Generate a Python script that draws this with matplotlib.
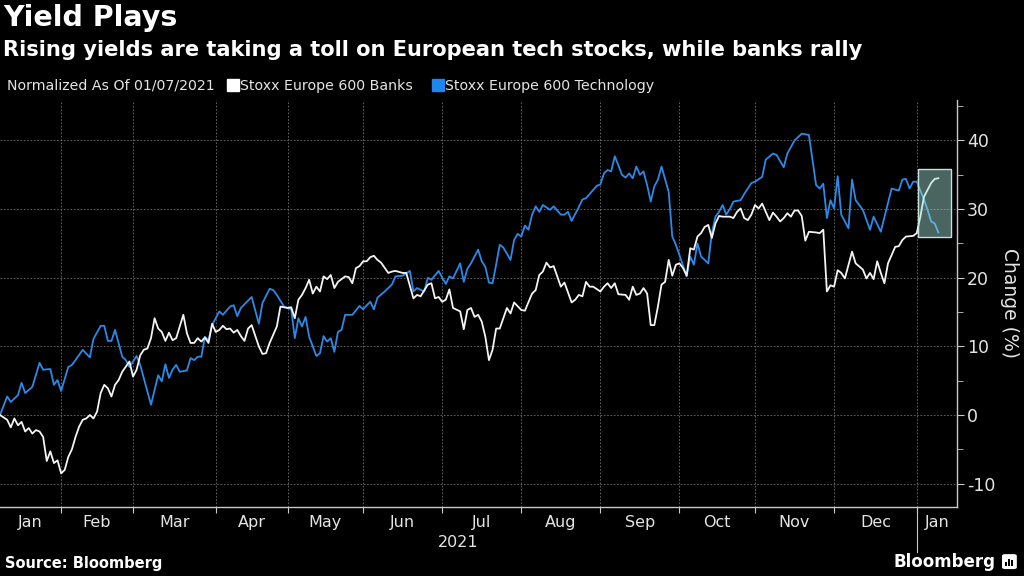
import numpy as np
import matplotlib
matplotlib.use("Agg")
import matplotlib.pyplot as plt
from matplotlib.lines import Line2D
from matplotlib.patches import Rectangle, FancyBboxPatch
from matplotlib.ticker import MultipleLocator

plt.rcParams["axes.unicode_minus"] = False

# trading sessions counted from the normalisation date 01/07/2021
START = "2021-01-07"
HOLIDAYS = ["2021-04-02", "2021-04-05"]
month_starts = ["2021-02-01", "2021-03-01", "2021-04-01", "2021-05-01", "2021-06-01",
                "2021-07-01", "2021-08-01", "2021-09-01", "2021-10-01", "2021-11-01",
                "2021-12-01", "2022-01-01"]
month_names = ["Jan", "Feb", "Mar", "Apr", "May", "Jun", "Jul", "Aug", "Sep", "Oct",
               "Nov", "Dec", "Jan"]

# Stoxx Europe 600 Banks, % change (session number, value)
banks_session = [0, 2, 3, 4, 5, 6, 7, 8, 9, 10, 11, 12, 13, 14, 15, 16, 17, 18, 19, 20,
                 21, 22, 23, 24, 25, 26, 27, 28, 29, 30, 31, 32, 33, 34, 36, 37, 38, 39, 40, 41,
                 42, 43, 44, 45, 46, 47, 48, 49, 51, 52, 53, 54, 55, 56, 57, 58, 59, 60, 61, 62,
                 63, 64, 65, 66, 67, 68, 69, 70, 72, 73, 74, 75, 77, 78, 80, 81, 82, 83, 84, 85,
                 86, 87, 88, 89, 90, 91, 92, 93, 94, 96, 97, 98, 99, 100, 101, 102, 103, 104, 105, 106,
                 108, 109, 110, 112, 113, 115, 116, 117, 119, 120, 121, 122, 123, 124, 125, 126, 128, 129, 130, 131,
                 132, 133, 134, 135, 136, 137, 138, 139, 141, 142, 143, 145, 146, 148, 149, 150, 151, 152, 153, 154,
                 155, 156, 157, 159, 160, 161, 162, 163, 164, 165, 167, 168, 169, 170, 171, 172, 174, 175, 176, 177,
                 178, 179, 180, 181, 182, 183, 184, 185, 186, 187, 188, 189, 190, 191, 192, 193, 194, 195, 196, 197,
                 198, 199, 200, 201, 203, 204, 205, 206, 207, 208, 209, 210, 211, 212, 213, 214, 215, 216, 217, 218,
                 219, 220, 221, 222, 223, 224, 225, 227, 228, 229, 230, 231, 232, 233, 234, 235, 237, 238, 240, 241,
                 242, 243, 244, 245, 246, 247, 248, 249, 250, 251, 252, 254, 255, 256, 257, 259, 260, 261]
banks_change = [0.0, -0.7, -1.8, -0.5, -1.5, -1.0, -2.4, -1.9, -2.7, -2.2, -2.4, -3.2, -6.7, -5.3, -7.0, -6.6, -8.5, -8.0, -6.1, -5.0,
                -3.2, -1.7, -0.7, -0.5, 0.0, -0.5, 0.5, 3.2, 4.4, 3.9, 2.7, 4.4, 5.1, 6.3, 7.8, 5.6, 6.6, 8.7, 9.5, 9.7,
                11.2, 14.1, 12.6, 12.1, 10.8, 12.0, 10.9, 11.2, 14.6, 11.9, 10.5, 10.5, 11.2, 10.7, 11.3, 10.5, 13.3, 12.1, 12.4, 13.0,
                12.5, 12.6, 12.0, 12.4, 11.5, 10.8, 12.6, 13.1, 10.0, 8.9, 9.0, 10.5, 12.9, 15.8, 15.6, 15.7, 14.1, 16.8, 17.5, 18.5,
                19.7, 17.7, 18.7, 18.0, 20.2, 19.8, 20.4, 18.5, 19.4, 20.2, 20.1, 19.2, 21.4, 21.7, 22.4, 22.4, 23.0, 23.2, 22.6, 22.2,
                20.7, 20.9, 21.0, 20.7, 20.7, 17.0, 17.5, 17.3, 19.0, 19.2, 17.0, 17.2, 16.5, 16.8, 18.3, 15.6, 15.1, 12.5, 15.3, 15.6,
                14.3, 14.6, 13.6, 11.4, 8.0, 9.5, 12.6, 12.6, 15.6, 14.8, 16.4, 15.3, 15.2, 17.7, 18.2, 20.4, 20.9, 22.2, 21.5, 21.7,
                20.2, 18.7, 19.3, 16.4, 16.8, 17.5, 17.3, 19.4, 18.7, 18.7, 18.0, 18.7, 19.2, 18.5, 19.2, 17.6, 17.5, 16.8, 18.7, 17.5,
                17.7, 18.5, 17.7, 13.1, 13.1, 15.8, 19.0, 19.4, 22.6, 20.3, 21.9, 22.1, 21.4, 20.3, 24.3, 24.1, 26.0, 26.5, 27.4, 27.7,
                25.8, 27.9, 29.0, 28.9, 28.9, 28.7, 29.6, 30.1, 28.7, 28.4, 29.2, 30.6, 30.1, 30.8, 29.6, 28.4, 29.5, 28.9, 28.2, 28.7,
                29.4, 28.9, 29.8, 29.8, 29.0, 25.4, 26.7, 26.6, 26.5, 27.0, 18.0, 18.9, 18.7, 21.1, 20.7, 19.9, 23.8, 22.1, 21.2, 19.9,
                20.7, 19.8, 22.4, 20.7, 19.2, 22.1, 23.3, 24.5, 24.6, 25.5, 26.0, 26.1, 26.5, 28.9, 31.8, 33.8, 34.4, 34.5]

# Stoxx Europe 600 Technology, % change
tech_session = [0, 2, 3, 5, 6, 7, 9, 11, 12, 14, 15, 16, 17, 19, 20, 21, 23, 25, 26, 28,
                29, 30, 31, 32, 34, 35, 36, 38, 39, 42, 44, 45, 46, 47, 48, 49, 50, 52, 53, 54,
                55, 56, 57, 58, 59, 61, 62, 64, 65, 66, 67, 70, 72, 73, 75, 76, 77, 79, 81, 82,
                83, 84, 85, 86, 88, 89, 90, 91, 92, 93, 94, 95, 96, 98, 100, 101, 102, 103, 104, 105,
                107, 109, 110, 112, 114, 115, 116, 118, 119, 120, 122, 124, 125, 126, 128, 129, 130, 131, 133, 134,
                135, 136, 137, 138, 139, 140, 142, 143, 144, 145, 146, 147, 148, 149, 150, 151, 153, 154, 156, 157,
                158, 159, 161, 162, 163, 165, 166, 167, 168, 169, 170, 171, 172, 173, 174, 175, 176, 177, 178, 179,
                180, 181, 182, 183, 184, 186, 187, 188, 189, 191, 192, 193, 194, 195, 197, 198, 199, 200, 201, 202,
                203, 204, 206, 207, 209, 210, 212, 213, 215, 216, 218, 219, 221, 223, 225, 227, 228, 229, 230, 231,
                232, 233, 234, 236, 237, 238, 240, 242, 243, 245, 247, 248, 250, 251, 252, 253, 254, 255, 257, 258,
                259, 260, 261]
tech_change = [0.0, 2.7, 1.9, 2.9, 4.7, 3.2, 4.1, 7.6, 6.6, 6.7, 4.4, 5.1, 3.5, 7.0, 7.3, 8.0, 9.5, 8.4, 11.1, 13.0,
               13.0, 10.8, 10.8, 12.4, 8.5, 8.0, 7.0, 8.6, 7.3, 1.5, 5.8, 4.9, 7.4, 5.4, 6.6, 7.3, 6.3, 6.5, 8.3, 8.0,
               8.5, 8.5, 11.4, 10.9, 13.1, 15.1, 14.6, 15.8, 16.0, 14.4, 15.6, 17.2, 13.3, 16.3, 18.4, 18.2, 17.5, 15.8, 15.4, 11.2,
               14.1, 12.9, 14.3, 11.4, 8.6, 9.0, 11.5, 10.7, 11.2, 9.2, 12.1, 12.4, 14.6, 14.6, 15.9, 15.4, 16.0, 16.5, 15.4, 17.1,
               18.0, 19.0, 20.2, 20.3, 21.0, 18.0, 18.5, 18.0, 20.0, 19.7, 21.0, 19.1, 20.2, 19.9, 22.1, 19.4, 21.3, 22.1, 24.1, 22.4,
               21.6, 19.3, 19.2, 21.9, 24.8, 24.4, 22.6, 25.5, 26.4, 26.0, 27.6, 27.0, 29.2, 30.4, 29.6, 30.6, 29.9, 30.4, 29.2, 29.2,
               29.6, 28.3, 30.3, 31.4, 31.6, 32.8, 33.4, 33.6, 35.2, 35.7, 35.5, 37.7, 36.4, 35.0, 34.6, 35.2, 34.5, 36.2, 35.0, 35.5,
               33.5, 31.1, 33.3, 34.3, 36.2, 32.5, 26.0, 24.8, 23.3, 20.2, 23.1, 21.9, 25.0, 23.1, 22.1, 26.5, 28.9, 29.6, 30.6, 29.2,
               30.0, 31.1, 31.3, 32.2, 33.8, 34.0, 34.7, 37.2, 38.1, 37.9, 36.1, 38.1, 40.0, 41.0, 40.8, 33.5, 33.0, 33.7, 28.7, 31.3,
               30.1, 34.8, 29.2, 27.2, 34.3, 31.3, 29.9, 27.0, 28.9, 26.7, 30.9, 33.0, 32.7, 34.3, 34.4, 33.0, 34.0, 34.0, 31.4, 29.9,
               28.2, 27.9, 26.6]

BG = "black"
TXT = "#e4e4e4"
GRID = "#707070"
SPINE = "#c8c8c8"
BLUE = "#2b8ae8"

fig = plt.figure(figsize=(10.24, 5.76), dpi=100, facecolor=BG)
ax = fig.add_axes([0.0, 0.1198, 0.9346, 0.7066], facecolor=BG)

ax.plot(tech_session, tech_change, color=BLUE, lw=1.3, solid_joinstyle="round")
ax.plot(banks_session, banks_change, color="#f4f4f4", lw=1.3, solid_joinstyle="round")

# highlighted last week (semi transparent box drawn over the lines)
ax.add_patch(Rectangle((255.4, 26.0), 9.1, 9.9, facecolor="#a5e0d6", alpha=0.45,
                       edgecolor="none", zorder=5))
ax.add_patch(Rectangle((255.4, 26.0), 9.1, 9.9, facecolor="none",
                       edgecolor="#c4e2dc", lw=1.0, zorder=6))

ax.set_xlim(0, 266.2)
ax.set_ylim(-13.4, 45.9)

# month boundaries as trading-session numbers
bounds = [int(np.busday_count(START, d, holidays=HOLIDAYS)) for d in month_starts]
edges = [0] + bounds + [266.2]
mids = [(edges[i] + edges[i + 1]) / 2 for i in range(len(edges) - 1)]

ax.set_xticks(bounds)
ax.set_xticklabels([])
ax.set_xticks(mids, minor=True)
ax.set_xticklabels(month_names, minor=True)
ax.tick_params(axis="x", which="major", length=4, color=SPINE, direction="out")
ax.tick_params(axis="x", which="minor", length=0, pad=6, labelsize=11.5, labelcolor=TXT)

ax.yaxis.tick_right()
ax.set_yticks(range(-10, 50, 10))
ax.yaxis.set_minor_locator(MultipleLocator(5))
ax.tick_params(axis="y", which="major", length=5, color=SPINE, labelsize=12.5,
               labelcolor=TXT, pad=2)
ax.tick_params(axis="y", which="minor", length=4, color=SPINE)

ax.grid(True, which="major", axis="both", color=GRID, linestyle=(0, (2, 2)), linewidth=0.6)
ax.set_axisbelow(True)

for side in ["top", "left"]:
    ax.spines[side].set_visible(False)
for side in ["right", "bottom"]:
    ax.spines[side].set_color(SPINE)
    ax.spines[side].set_linewidth(1.0)

# year label and the year separator tick
xtr = ax.get_xaxis_transform()
ax.plot([bounds[-1], bounds[-1]], [0, -0.11], transform=xtr, color=SPINE, lw=0.8, clip_on=False)
ax.text(bounds[-1] / 2, -0.088, "2021", transform=xtr, ha="center", va="center",
        color=TXT, fontsize=11.5)

fig.text(0.986, 0.474, "Change (%)", rotation=270, ha="center", va="center",
         color=TXT, fontsize=13.5)

# titles
fig.text(0.003, 0.968, "Yield Plays", color="white", fontsize=20.5, weight="bold",
         ha="left", va="center")
fig.text(0.003, 0.913, "Rising yields are taking a toll on European tech stocks, while banks rally",
         color="white", fontsize=15.1, weight="bold", ha="left", va="center")

# legend row
note = fig.text(0.007, 0.851, "Normalized As Of 01/07/2021", color=TXT, fontsize=10.2,
                ha="left", va="center")
fig.canvas.draw()
bb = note.get_window_extent(fig.canvas.get_renderer())
x_after = bb.x1 / fig.bbox.width + 0.013
handles = [Line2D([], [], marker="s", linestyle="none", color="white", markersize=8),
           Line2D([], [], marker="s", linestyle="none", color="#1f86f0", markersize=8)]
leg = fig.legend(handles, ["Stoxx Europe 600 Banks", "Stoxx Europe 600 Technology"],
                 loc="center left", bbox_to_anchor=(x_after, 0.851), ncol=2, frameon=False,
                 handlelength=0.7, handletextpad=0.15, columnspacing=1.4,
                 borderpad=0, borderaxespad=0, prop={"size": 10.2})
for t in leg.get_texts():
    t.set_color(TXT)

# footer
fig.text(0.005, 0.022, "Source: Bloomberg", color="white", fontsize=10.5, weight="bold",
         ha="left", va="center")
fig.text(0.972, 0.024, "Bloomberg", color="white", fontsize=12, weight="bold",
         ha="right", va="center")
fig.patches.append(FancyBboxPatch((0.9785, 0.012), 0.0145, 0.026,
                                  boxstyle="round,pad=0,rounding_size=0.003",
                                  transform=fig.transFigure, facecolor="white", edgecolor="none"))
for k, h in enumerate([0.008, 0.013, 0.010]):
    fig.patches.append(Rectangle((0.9815 + k * 0.003, 0.017), 0.0018, h,
                                 transform=fig.transFigure, facecolor="black", edgecolor="none"))

fig.savefig("out.png", dpi=100, facecolor=BG)
